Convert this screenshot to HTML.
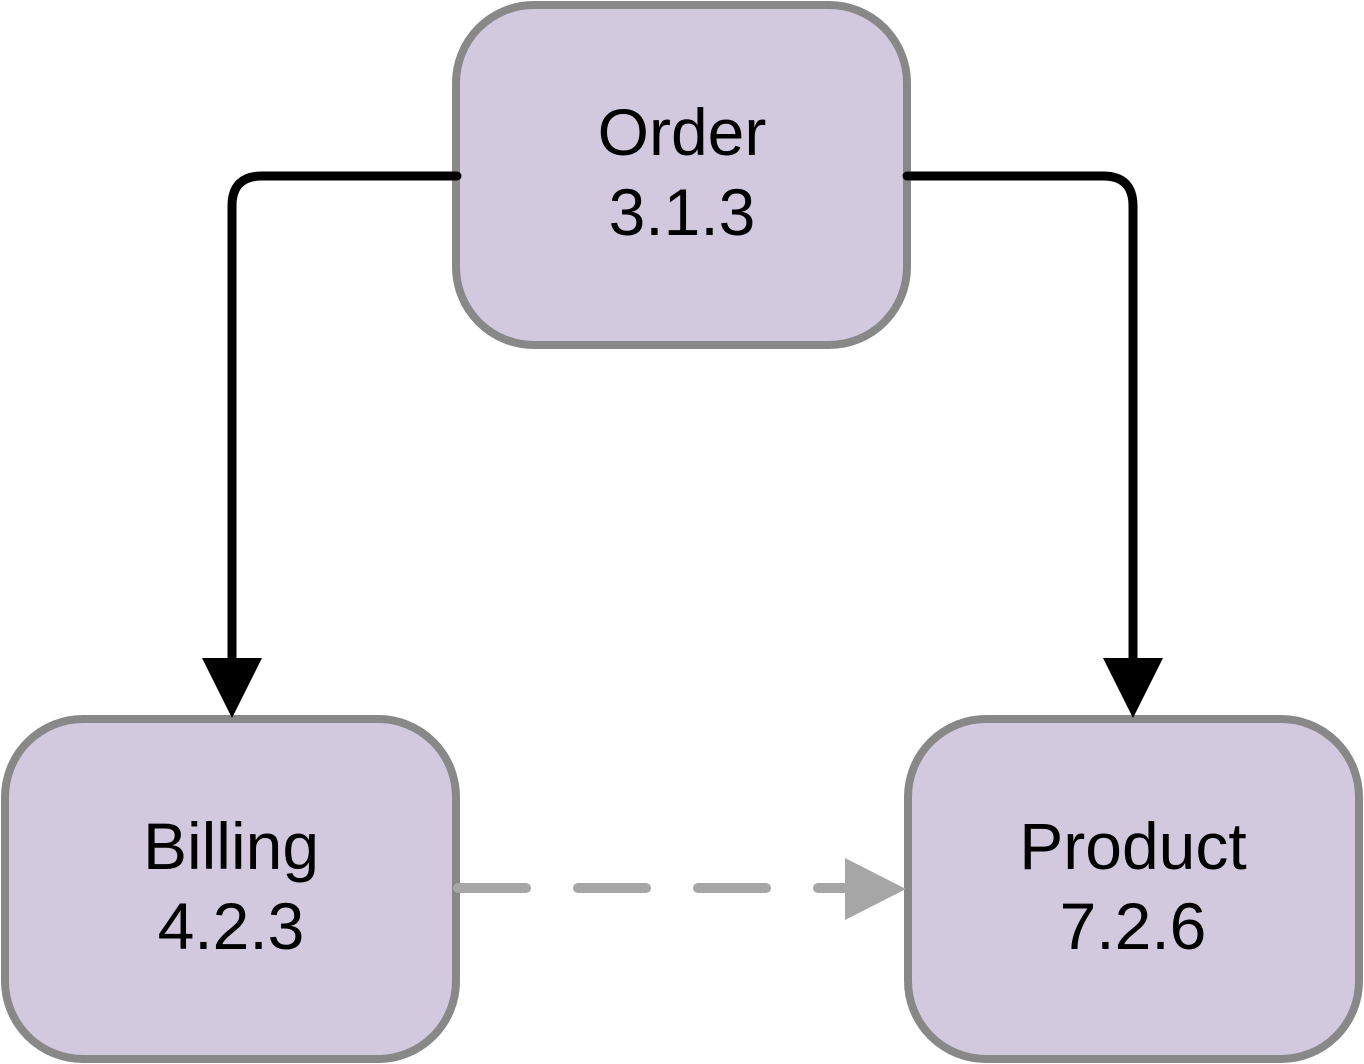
<!DOCTYPE html>
<html><head><style>
html,body{margin:0;padding:0;background:#fff;}
svg{display:block}
text{font-family:"Liberation Sans",sans-serif;font-size:66px;fill:#000;text-anchor:middle}
</style></head><body>
<svg width="1364" height="1064" viewBox="0 0 1364 1064">
<g fill="#d3c9de" stroke="#888" stroke-width="8">
<rect x="456" y="5" width="451" height="340" rx="78"/>
<rect x="5" y="719" width="451" height="340" rx="78"/>
<rect x="908" y="719" width="451" height="340" rx="78"/>
</g>
<g fill="none" stroke="#000" stroke-width="9" stroke-linecap="round" stroke-linejoin="round">
<path d="M457 176 H262 Q232 176 232 206 V662"/>
<path d="M907 176 H1103 Q1133 176 1133 206 V662"/>
</g>
<polygon points="202,658 262,658 232,718" fill="#000"/>
<polygon points="1103,658 1163,658 1133,718" fill="#000"/>
<path d="M458 888 H845" stroke="#a6a6a6" stroke-width="10" stroke-linecap="round" stroke-dasharray="68 52" fill="none"/>
<polygon points="845,858 845,920 906,889" fill="#a6a6a6"/>
<text x="682" y="155">Order</text>
<text x="682" y="235">3.1.3</text>
<text x="231" y="869">Billing</text>
<text x="231" y="949">4.2.3</text>
<text x="1133" y="869">Product</text>
<text x="1133" y="949">7.2.6</text>
</svg>
</body></html>
